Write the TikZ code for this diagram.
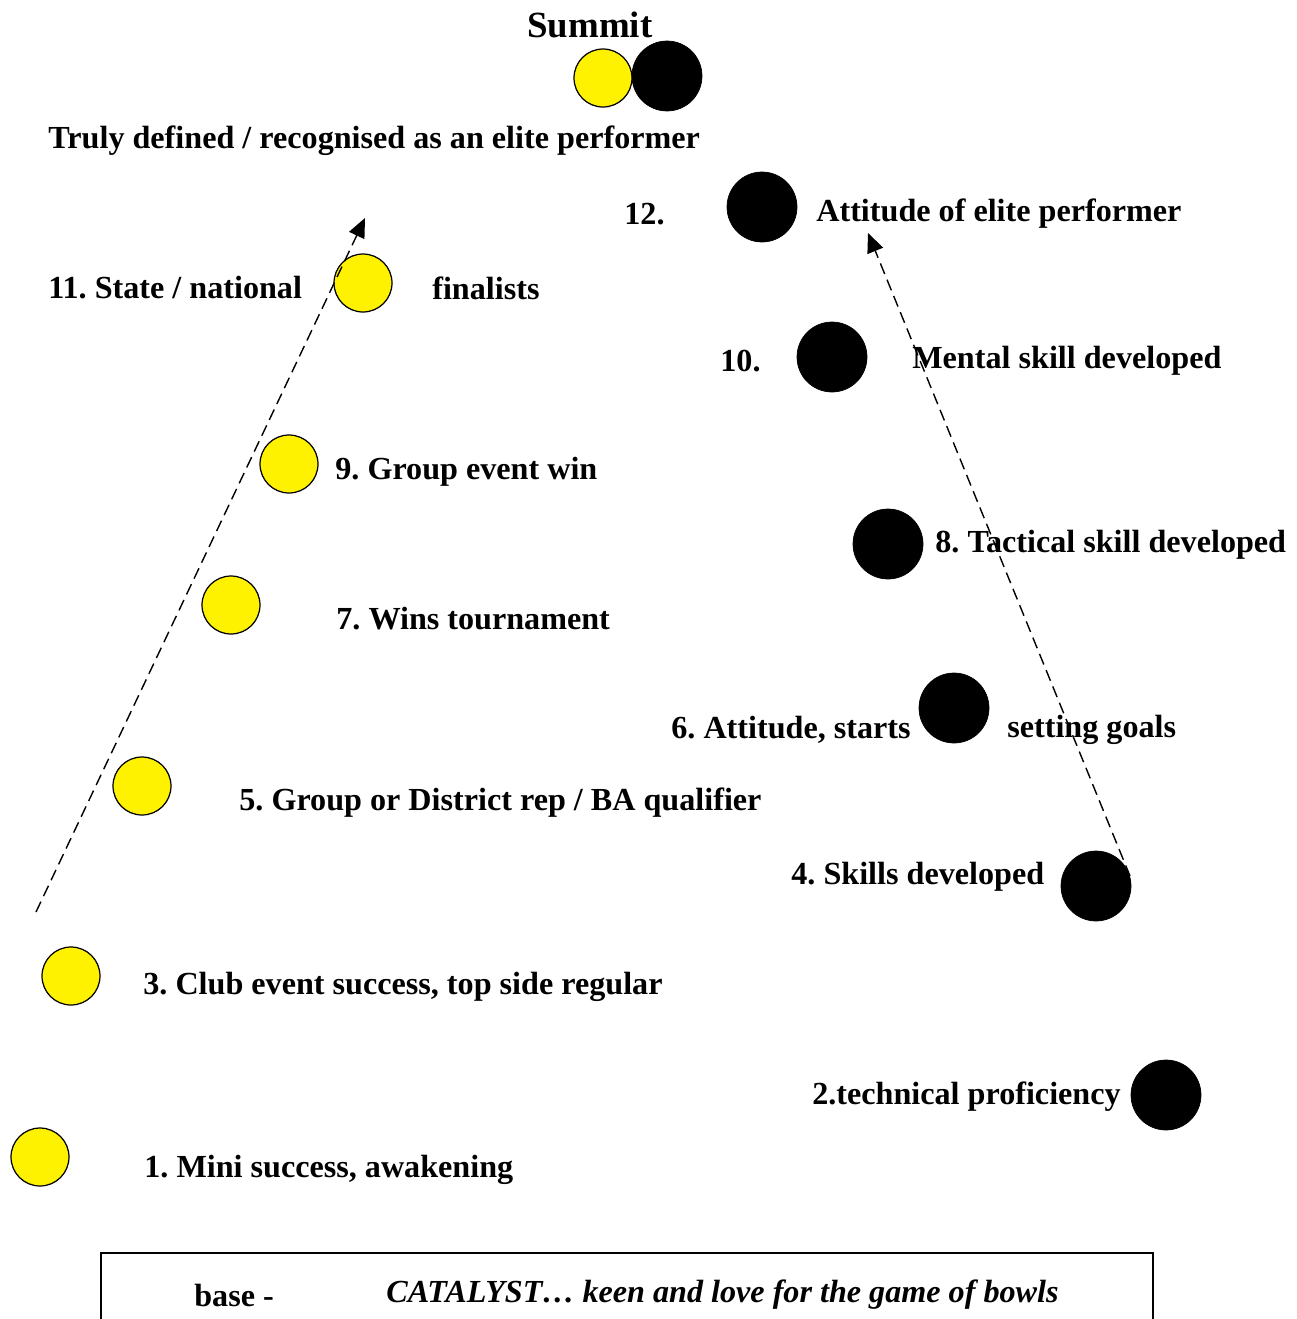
\documentclass[tikz,border=0pt]{standalone}
\usepackage{fontspec}
\setmainfont{Liberation Serif}
\usetikzlibrary{arrows.meta}
\frenchspacing
\begin{document}
\begin{tikzpicture}[
    x=0.02cm, y=-0.02cm,
    yball/.style={circle, draw, line width=0.7pt, fill=yellow, minimum size=1.16cm, inner sep=0pt},
    bball/.style={circle, draw, fill=black, minimum size=1.4cm, inner sep=0pt},
    lbl/.style={anchor=west, inner sep=0pt, font=\fontsize{18.3}{20}\selectfont\bfseries},
    path/.style={line width=0.8pt, dash pattern=on 6.5pt off 3.5pt, -{Triangle[length=11pt,width=9.5pt]}}
]
    \useasboundingbox (0,0) rectangle (1296,1319);

    % summit
    \node[font=\fontsize{21}{24}\selectfont\bfseries] (summit) at (590,25) {Summit};
    \node[yball] (sy) at (603,78) {};
    \node[bball] (sb) at (667,76) {};
    \node[lbl] (top) at (48,141) {Truly defined / recognised as an elite performer};

    % yellow side
    \node[yball] (y11) at (363,283) {};
    \node[lbl] (t11) at (48,288) {11. State / national};
    \node[lbl] (t11b) at (432,288) {finalists};
    \node[yball] (y9) at (289,464) {};
    \node[lbl] (t9) at (335,472) {9. Group event win};
    \node[yball] (y7) at (231,605) {};
    \node[lbl] (t7) at (336,619) {7. Wins tournament};
    \node[yball] (y5) at (142,786) {};
    \node[lbl] (t5) at (239,803) {5. Group or District rep / BA qualifier};
    \node[yball] (y3) at (71,976) {};
    \node[lbl] (t3) at (143,987) {3. Club event success, top side regular};
    \node[yball] (y1) at (40,1157) {};
    \node[lbl] (t1) at (144,1170) {1. Mini success, awakening};

    % black side
    \node[bball] (b12) at (762,207) {};
    \node[lbl] (t12) at (624,214) {12.};
    \node[lbl] (t12b) at (816,214) {Attitude of elite performer};
    \node[bball] (b10) at (832,357) {};
    \node[lbl] (t10) at (720,361) {10.};
    \node[lbl] (t10b) at (912,361) {Mental skill developed};
    \node[bball] (b8) at (888,544) {};
    \node[lbl] (t8) at (935,545) {8. Tactical skill developed};
    \node[bball] (b6) at (954,708) {};
    \node[lbl] (t6) at (671,730) {6. Attitude, starts};
    \node[lbl] (t6b) at (1007,730) {setting goals};
    \node[bball] (b4) at (1096,886) {};
    \node[lbl] (t4) at (791,877) {4. Skills developed};
    \node[bball] (b2) at (1166,1095) {};
    \node[lbl, anchor=east] (t2) at (1121,1097) {2.technical proficiency};

    % arrows
    \coordinate (ls) at (36,912);
    \coordinate (le) at (365,218);
    \coordinate (rs) at (1130,876);
    \coordinate (re) at (868,233);
    \draw[path] (ls) -- (le);
    \draw[path] (rs) -- (re);

    % base
    \draw[line width=0.8pt] (101,1330) -- (101,1253) -- (1153,1253) -- (1153,1330);
    \node[lbl] (base) at (194,1295) {base -};
    \node[lbl, font=\fontsize{18.3}{20}\selectfont\bfseries\itshape] (cat) at (386,1295) {CATALYST\ldots\ keen and love for the game of bowls};
\end{tikzpicture}
\end{document}
